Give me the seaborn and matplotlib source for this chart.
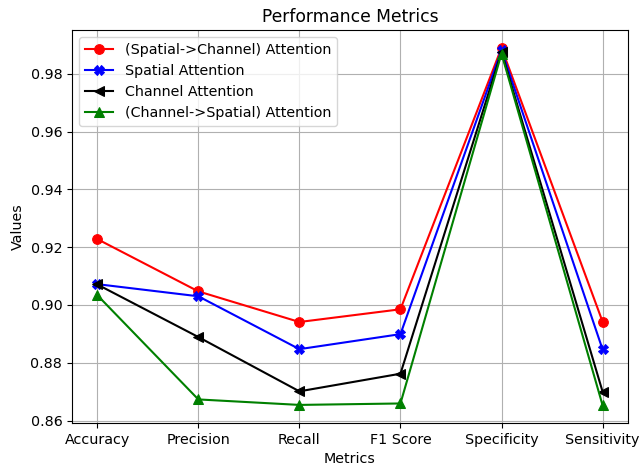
import matplotlib
matplotlib.use("Agg")
import matplotlib.pyplot as plt
import seaborn as sns
import pandas as pd

plt.rcParams["font.size"] = 10.3

metrics = ["Accuracy", "Precision", "Recall", "F1 Score", "Specificity", "Sensitivity"]
spatial_channel = [0.9228, 0.9047, 0.8941, 0.8985, 0.9890, 0.8942]
spatial = [0.9072, 0.9030, 0.8847, 0.8899, 0.9882, 0.8846]
channel = [0.9071, 0.8889, 0.8701, 0.8762, 0.9876, 0.8700]
channel_spatial = [0.9034, 0.8673, 0.8654, 0.8659, 0.9870, 0.8653]

series = [
    ("(Spatial->Channel) Attention", spatial_channel, "red", "o"),
    ("Spatial Attention", spatial, "blue", "X"),
    ("Channel Attention", channel, "black", "<"),
    ("(Channel->Spatial) Attention", channel_spatial, "green", "^"),
]

fig, ax = plt.subplots(figsize=(6.4, 4.68), dpi=100)
for label, vals, color, marker in series:
    df = pd.DataFrame({"Metrics": metrics, "Values": vals})
    sns.lineplot(data=df, x="Metrics", y="Values", ax=ax, color=color, marker=marker,
                 markersize=7, markeredgecolor=color, label=label, sort=False, linewidth=1.5)

ax.set_title("Performance Metrics")
ax.set_xlabel("Metrics")
ax.set_ylabel("Values")
ax.grid(True)
ax.legend(loc="upper left")
fig.subplots_adjust(left=0.1125, right=0.981, top=0.936, bottom=0.096)
fig.savefig("out.png", dpi=100)
